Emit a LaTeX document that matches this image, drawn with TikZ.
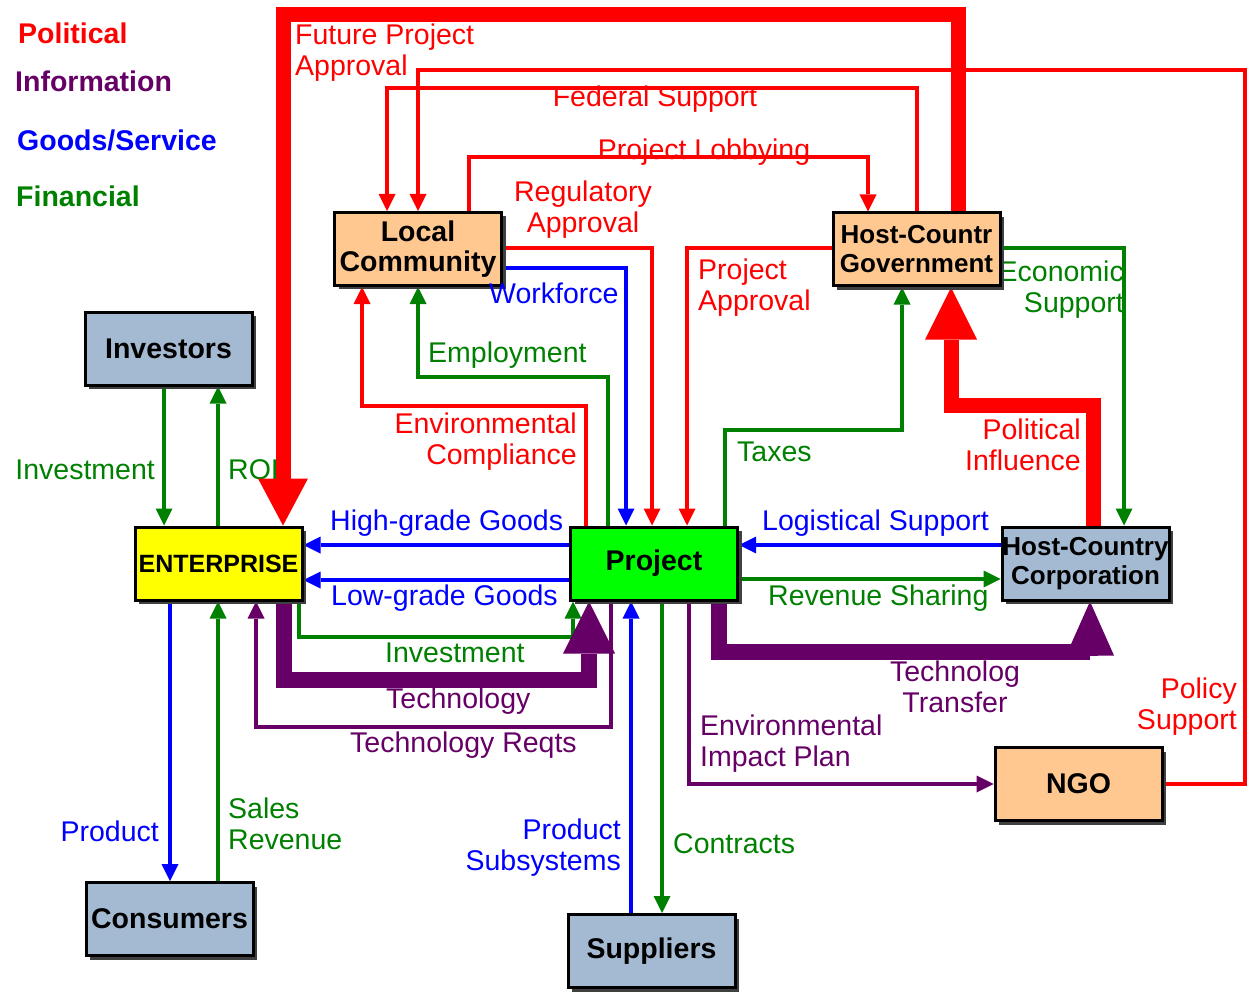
\documentclass[tikz,border=0pt]{standalone}
\usepackage{fontspec}
\setmainfont{Liberation Sans}
\usetikzlibrary{arrows.meta,shadows}
\pgfdeclarelayer{bg}
\pgfsetlayers{bg,main}

\definecolor{cRed}{HTML}{FF0000}
\definecolor{cBlue}{HTML}{0000FF}
\definecolor{cGreen}{HTML}{008000}
\definecolor{cPurple}{HTML}{660066}
\definecolor{cPeach}{HTML}{FFC890}
\definecolor{cSteel}{HTML}{A4BAD2}
\definecolor{cLime}{HTML}{00FF00}
\definecolor{cYellow}{HTML}{FFFF00}

\tikzset{
  box/.style={draw=black, line width=3pt, minimum width=167pt, minimum height=73pt,
    inner sep=0pt, align=center, font=\bfseries\fontsize{28.5}{30}\selectfont,
    drop shadow={shadow xshift=4pt, shadow yshift=-4pt, fill=black!75, opacity=1}},
  smallbox/.style={box, font=\bfseries\fontsize{26}{29}\selectfont},
  lab/.style={inner sep=0pt, font=\fontsize{28.5}{31}\selectfont},
  legend/.style={inner sep=0pt, anchor=west, font=\bfseries\fontsize{28.5}{31}\selectfont},
  thintip/.style={-{Triangle[length=17pt,width=17pt,line width=0pt]}},
  polflow/.style={draw=cRed, line width=4pt, thintip},
  goodsflow/.style={draw=cBlue, line width=4pt, thintip},
  finflow/.style={draw=cGreen, line width=4pt, thintip},
  infoflow/.style={draw=cPurple, line width=3.5pt, thintip},
  bigpol/.style={draw=cRed, line width=15pt},
  biginfo/.style={draw=cPurple, line width=16pt},
}

\begin{document}
\begin{tikzpicture}[x=1pt, y=-1pt]
\path[use as bounding box] (0,0) rectangle (1247,992);

% legend
\node[legend, text=cRed]    (lgPol)  at (18,33)  {Political};
\node[legend, text=cPurple] (lgInfo) at (15,81)  {Information};
\node[legend, text=cBlue]   (lgGood) at (17,140) {Goods/Service};
\node[legend, text=cGreen]  (lgFin)  at (16,196) {Financial};

% actors
\node[box, fill=cSteel] (inv) at (168.5,348.5) {Investors};
\node[box, fill=cYellow, font=\bfseries\fontsize{25}{27}\selectfont] (ent) at (218.5,563.5) {ENTERPRISE};
\node[box, fill=cSteel] (con) at (169.5,919) {Consumers};
\node[box, fill=cPeach] (lc) at (418,249) {Local\\Community};
\node[smallbox, fill=cPeach] (gov) at (916.5,249.5) {Host-Countr\\Government};
\node[box, fill=cLime] (prj) at (654,563.5) {Project};
\node[smallbox, fill=cSteel] (corp) at (1085.5,563.5) {Host-Country\\Corporation};
\node[box, fill=cPeach] (ngo) at (1078.5,784) {NGO};
\node[box, fill=cSteel] (sup) at (651.5,951) {Suppliers};

\begin{pgfonlayer}{bg}
% labels lying under the flows and boxes
\node[lab, text=cGreen, anchor=west] (lROI) at (228,470) {ROI};
\node[lab, text=cGreen, anchor=east, align=right] (lEcon) at (1124,290) {Economic\\Support};

% investors
\draw[finflow] ([xshift=-4.5pt]inv.south) -- ([xshift=-54.5pt]ent.north);
\draw[finflow] ([xshift=-0.5pt]ent.north) -- ([xshift=49.5pt]inv.south);

% political flows
\draw[bigpol, -{Triangle[length=47pt,width=50pt,line width=0pt]}]
  ([xshift=41.5pt]gov.north) |- (283,15) -- ([xshift=64.5pt]ent.north);
\draw[polflow] (ngo.east) -| (1245,70) -| (lc.north);
\draw[polflow] (gov.north) |- (387,88) -- ([xshift=-31pt]lc.north);
\draw[polflow] ([xshift=51pt]lc.north) |- (868,157) -- ([xshift=-48.5pt]gov.north);
\draw[polflow] ([yshift=1pt]lc.east) -| ([xshift=-2pt]prj.north);
\draw[polflow] ([xshift=-68pt]prj.north) |- (362,406) -- ([xshift=-56pt]lc.south);
\draw[polflow] ([yshift=1pt]gov.west) -| ([xshift=33pt]prj.north);
\draw[bigpol, -{Triangle[length=52pt,width=52pt,line width=0pt]}]
  ([xshift=7.5pt]corp.north) |- (951,405) -- ([xshift=34.5pt]gov.south);

% goods and services
\draw[goodsflow] ([yshift=-19pt]lc.east) -| ([xshift=-28pt]prj.north);
\draw[goodsflow] ([yshift=18.5pt]prj.west) -- ([yshift=18.5pt]ent.east);
\draw[goodsflow] ([yshift=-16.5pt]prj.west) -- ([yshift=-16.5pt]ent.east);
\draw[goodsflow] ([yshift=18.5pt]corp.west) -- ([yshift=18.5pt]prj.east);
\draw[goodsflow] ([xshift=-48.5pt]ent.south) -- ([xshift=0.5pt]con.north);
\draw[goodsflow] ([xshift=-20.5pt]sup.north) -- ([xshift=-23pt]prj.south);

% financial flows
\draw[finflow] ([xshift=-46pt]prj.north) |- (418,377) -- (lc.south);
\draw[finflow] ([xshift=71pt]prj.north) |- (902,430) -- ([xshift=-14.5pt]gov.south);
\draw[finflow] ([yshift=1pt]gov.east) -| ([xshift=38.5pt]corp.north);
\draw[finflow] ([yshift=-15.5pt]prj.east) -- ([yshift=-15.5pt]corp.west);
\draw[finflow] ([xshift=80.5pt]ent.south) |- (573,637) -- ([xshift=-81pt]prj.south);
\draw[finflow] ([xshift=48.5pt]con.north) -- ([xshift=-0.5pt]ent.south);
\draw[finflow] ([xshift=8pt]prj.south) -- ([xshift=10.5pt]sup.north);

% information flows
\draw[biginfo, -{Triangle[length=52pt,width=52pt,line width=0pt]}]
  ([xshift=65.5pt]ent.south) |- (589,680) -- ([xshift=-65pt]prj.south);
\draw[infoflow] ([xshift=-43pt]prj.south) |- (256,727) -- ([xshift=37.5pt]ent.south);
\draw[infoflow] ([xshift=35pt]prj.south) |- (ngo.west);
\draw[biginfo, -{Triangle[length=54pt,width=48pt,line width=0pt]}]
  ([xshift=65pt]prj.south) |- (1090,652) -- ([xshift=4.5pt]corp.south);
\end{pgfonlayer}

% flow labels
\node[lab, text=cRed, anchor=west, align=left] (lFut) at (295,53) {Future Project\\Approval};
\node[lab, text=cRed] (lFed) at (655,99) {Federal Support};
\node[lab, text=cRed] (lLob) at (704,152) {Project Lobbying};
\node[lab, text=cRed, align=center] (lReg) at (583,210) {Regulatory\\Approval};
\node[lab, text=cBlue, anchor=west] (lWork) at (489,293) {Workforce};
\node[lab, text=cGreen, anchor=west] (lEmp) at (428,355) {Employment};
\node[lab, text=cRed, anchor=east, align=right] (lEnvC) at (577,442) {Environmental\\Compliance};
\node[lab, text=cRed, anchor=west, align=left] (lPApp) at (698,288) {Project\\Approval};
\node[lab, text=cGreen, anchor=west] (lTax) at (737,452) {Taxes};
\node[lab, text=cRed, anchor=east, align=right] (lPolI) at (1081,445) {Political\\Influence};
\node[lab, text=cGreen, anchor=east] (lInv) at (155,470) {Investment};
\node[lab, text=cBlue, anchor=west] (lHigh) at (330,523) {High-grade Goods};
\node[lab, text=cBlue, anchor=west] (lLow) at (331,598) {Low-grade Goods};
\node[lab, text=cBlue, anchor=west] (lLog) at (762,523) {Logistical Support};
\node[lab, text=cGreen, anchor=west] (lRev) at (768,598) {Revenue Sharing};
\node[lab, text=cGreen, anchor=west] (lInv2) at (385,653) {Investment};
\node[lab, text=cPurple, anchor=west] (lTech) at (386,701) {Technology};
\node[lab, text=cPurple, anchor=west] (lReq) at (350,745) {Technology Reqts};
\node[lab, text=cPurple, align=center] (lTT) at (955,687) {Technolog\\Transfer};
\node[lab, text=cPurple, anchor=west, align=left] (lEIP) at (700,744) {Environmental\\Impact Plan};
\node[lab, text=cRed, anchor=east, align=right] (lPol) at (1237,707) {Policy\\Support};
\node[lab, text=cBlue, anchor=east] (lProd) at (159,831) {Product};
\node[lab, text=cGreen, anchor=west, align=left] (lSal) at (228,824) {Sales\\Revenue};
\node[lab, text=cBlue, anchor=east, align=right] (lSub) at (621,848) {Product\\Subsystems};
\node[lab, text=cGreen, anchor=west] (lCon) at (673,844) {Contracts};
\end{tikzpicture}
\end{document}
